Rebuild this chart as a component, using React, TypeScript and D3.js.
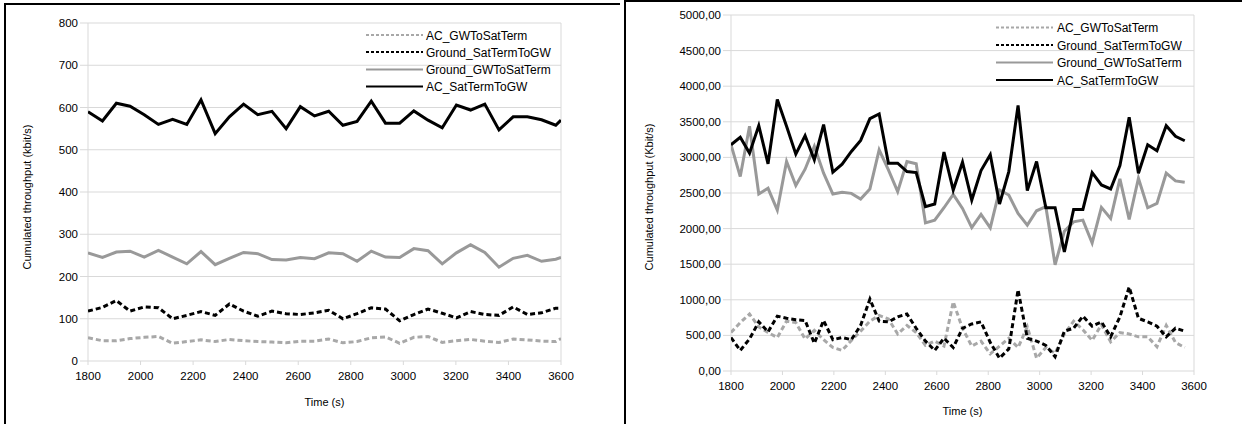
import React from "react";
import * as d3 from "d3";

// ---------- Left chart data ----------
const leftTimes = [1800, 1855, 1908, 1960, 2014, 2068, 2122, 2176, 2230, 2284, 2338, 2392, 2446, 2500, 2554, 2608, 2662, 2716, 2770, 2824, 2878, 2932, 2986, 3040, 3094, 3148, 3202, 3256, 3310, 3364, 3418, 3472, 3526, 3580, 3600];
const leftAC_GWToSatTerm = [55, 48, 48, 53, 56, 58, 42, 46, 50, 46, 51, 48, 46, 45, 43, 47, 47, 52, 43, 46, 55, 57, 42, 56, 58, 44, 48, 51, 47, 44, 52, 50, 47, 46, 53];
const leftGround_SatTermToGW = [118, 127, 143, 118, 128, 126, 100, 108, 117, 108, 135, 118, 106, 118, 112, 110, 114, 120, 100, 112, 126, 123, 95, 110, 123, 113, 102, 117, 110, 108, 128, 110, 114, 125, 125];
const leftGround_GWToSatTerm = [256, 245, 258, 260, 246, 262, 246, 230, 259, 228, 243, 257, 254, 240, 239, 245, 242, 256, 254, 236, 260, 246, 245, 266, 261, 230, 256, 275, 257, 222, 243, 250, 236, 241, 245];
const leftAC_SatTermToGW = [590, 568, 610, 603, 583, 560, 572, 560, 618, 538, 578, 608, 583, 591, 550, 602, 580, 591, 558, 567, 615, 563, 563, 592, 570, 552, 606, 594, 608, 547, 578, 578, 571, 558, 570];
const leftYTicks = [0, 100, 200, 300, 400, 500, 600, 700, 800];

// ---------- Right chart data ----------
const rightTimes = [1800, 1836, 1872, 1908, 1944, 1980, 2016, 2052, 2088, 2124, 2160, 2196, 2232, 2268, 2304, 2340, 2376, 2412, 2448, 2484, 2520, 2556, 2592, 2628, 2664, 2700, 2736, 2772, 2808, 2844, 2880, 2916, 2952, 2988, 3024, 3060, 3096, 3132, 3168, 3204, 3240, 3276, 3312, 3348, 3384, 3420, 3456, 3492, 3528, 3564];
const rightAC_GWToSatTerm = [540, 680, 800, 620, 540, 470, 700, 680, 450, 570, 440, 330, 290, 430, 560, 700, 780, 730, 520, 640, 540, 360, 420, 350, 970, 600, 350, 420, 240, 350, 460, 330, 620, 180, 330, 250, 520, 700, 580, 430, 650, 410, 540, 520, 480, 480, 340, 640, 400, 330];
const rightGround_SatTermToGW = [470, 290, 450, 690, 550, 770, 740, 720, 710, 390, 710, 440, 470, 440, 640, 1010, 700, 690, 760, 800, 600, 420, 290, 460, 330, 600, 660, 690, 400, 180, 310, 1140, 460, 420, 360, 200, 560, 600, 770, 630, 690, 480, 760, 1180, 740, 690, 630, 480, 600, 560];
const rightGround_GWToSatTerm = [3178, 2731, 3437, 2486, 2566, 2260, 2943, 2604, 2834, 3155, 2778, 2486, 2509, 2495, 2415, 2557, 3107, 2825, 2519, 2943, 2910, 2081, 2119, 2293, 2481, 2283, 2015, 2199, 2010, 2542, 2472, 2213, 2048, 2250, 2307, 1492, 1963, 2095, 2119, 1798, 2298, 2142, 2698, 2128, 2707, 2293, 2354, 2778, 2670, 2651];
const rightAC_SatTermToGW = [3178, 3282, 3060, 3446, 2910, 3814, 3437, 3046, 3305, 2966, 3460, 2792, 2905, 3084, 3239, 3545, 3611, 2919, 2919, 2801, 2787, 2307, 2345, 3074, 2542, 2933, 2401, 2815, 3037, 2345, 2801, 3729, 2533, 2943, 2293, 2293, 1671, 2269, 2269, 2787, 2613, 2557, 2886, 3564, 2778, 3178, 3093, 3446, 3296, 3234];
const rightYTicks = [0, 500, 1000, 1500, 2000, 2500, 3000, 3500, 4000, 4500, 5000];

const xTicks = [1800, 2000, 2200, 2400, 2600, 2800, 3000, 3200, 3400, 3600];
const seriesNames = ["AC_GWToSatTerm", "Ground_SatTermToGW", "Ground_GWToSatTerm", "AC_SatTermToGW"];

const FONT = "'Liberation Sans', Arial, Helvetica, sans-serif";
const GRID = "#d9d9d9";
const GRAY = "#999999";
const GRAYDASH = "#a8a8a8";

type Series = { name: string; values: number[]; color: string; dash?: string };

type ChartProps = {
  left: number; right: number; top: number; bottom: number;
  yMax: number; yTicks: number[]; fmt: (v: number) => string;
  times: number[]; series: Series[];
  yLabel: string; yLabelX: number; yLabelY: number;
  xLabelY: number; xTickLabelY: number;
  legendX1: number; legendX2: number; legendTextX: number; legendYs: number[];
  lineWidth: number;
};

function Chart(p: ChartProps) {
  const x = d3.scaleLinear().domain([1800, 3600]).range([p.left, p.right]);
  const y = d3.scaleLinear().domain([0, p.yMax]).range([p.bottom, p.top]);
  const line = d3.line<number>()
    .x((_, i) => x(p.times[i]))
    .y((d) => y(d));
  const clipId = "clip" + p.left;
  return (
    <g fontFamily={FONT}>
      <defs>
        <clipPath id={clipId}>
          <rect x={p.left} y={p.top - 5} width={p.right - p.left} height={p.bottom - p.top + 10} />
        </clipPath>
      </defs>
      {p.yTicks.map((t) => (
        <g key={"y" + t}>
          <line x1={p.left - 8} x2={p.right} y1={y(t)} y2={y(t)} stroke={GRID} strokeWidth={1} />
          <text x={p.left - 10} y={y(t) + 4} textAnchor="end" fontSize={11.5} fill="#000">{p.fmt(t)}</text>
        </g>
      ))}
      <line x1={p.left} x2={p.left} y1={p.top} y2={p.bottom} stroke={GRID} strokeWidth={1} />
      <line x1={p.right} x2={p.right} y1={p.top} y2={p.bottom} stroke={GRID} strokeWidth={1} />
      {xTicks.map((t) => (
        <g key={"x" + t}>
          <line x1={x(t)} x2={x(t)} y1={p.bottom} y2={p.bottom + 4} stroke={GRID} strokeWidth={1} />
          <text x={x(t)} y={p.xTickLabelY} textAnchor="middle" fontSize={11.5} fill="#000">{t}</text>
        </g>
      ))}
      <g clipPath={`url(#${clipId})`}>
        {p.series.map((s) => (
          <path key={s.name} d={line(s.values) || ""} fill="none" stroke={s.color}
            strokeWidth={p.lineWidth} strokeDasharray={s.dash} strokeLinejoin="miter" />
        ))}
      </g>
      {p.series.map((s, i) => (
        <g key={"lg" + s.name}>
          <line x1={p.legendX1} x2={p.legendX2} y1={p.legendYs[i]} y2={p.legendYs[i]} stroke={s.color}
            strokeWidth={2} strokeDasharray={s.dash ? "3,2" : undefined} />
          <text x={p.legendTextX} y={p.legendYs[i] + 4.5} fontSize={12} fill="#000">{s.name}</text>
        </g>
      ))}
      <text transform={`translate(${p.yLabelX},${p.yLabelY}) rotate(-90)`} textAnchor="middle" fontSize={11} fill="#000">{p.yLabel}</text>
      <text x={(p.left + p.right) / 2} y={p.xLabelY} textAnchor="middle" fontSize={11} fill="#000">Time (s)</text>
    </g>
  );
}

export default function App() {
  const leftSeries: Series[] = [
    { name: seriesNames[0], values: leftAC_GWToSatTerm, color: GRAYDASH, dash: "5,3" },
    { name: seriesNames[1], values: leftGround_SatTermToGW, color: "#000", dash: "5,3" },
    { name: seriesNames[2], values: leftGround_GWToSatTerm, color: GRAY },
    { name: seriesNames[3], values: leftAC_SatTermToGW, color: "#000" },
  ];
  const rightSeries: Series[] = [
    { name: seriesNames[0], values: rightAC_GWToSatTerm, color: GRAYDASH, dash: "5,3" },
    { name: seriesNames[1], values: rightGround_SatTermToGW, color: "#000", dash: "5,3" },
    { name: seriesNames[2], values: rightGround_GWToSatTerm, color: GRAY },
    { name: seriesNames[3], values: rightAC_SatTermToGW, color: "#000" },
  ];
  const fmtComma = (v: number) => v.toFixed(2).replace(".", ",");
  return (
    <svg width={1242} height={424} style={{ position: "absolute", left: 0, top: 0, background: "#fff" }}>
      <rect x={0} y={0} width={1242} height={424} fill="#fff" />
      <Chart left={88} right={561} top={23} bottom={361} yMax={800} yTicks={leftYTicks}
        fmt={(v) => String(v)} times={leftTimes} series={leftSeries}
        yLabel="Cumulated throughput (kbit/s)" yLabelX={31} yLabelY={197}
        xLabelY={406} xTickLabelY={380}
        legendX1={366} legendX2={423} legendTextX={426} legendYs={[35, 52, 69.5, 86.5]} lineWidth={3} />
      <Chart left={731} right={1194} top={15} bottom={371} yMax={5000} yTicks={rightYTicks}
        fmt={fmtComma} times={rightTimes} series={rightSeries}
        yLabel="Cumulated throughput (Kbit/s)" yLabelX={653} yLabelY={197}
        xLabelY={415} xTickLabelY={390}
        legendX1={996} legendX2={1053} legendTextX={1057} legendYs={[27.5, 45, 62.5, 80]} lineWidth={3} />
      {/* frames */}
      <path d="M5,424 V4 H620" fill="none" stroke="#000" strokeWidth={2} />
      <path d="M625,424 V1 H1242" fill="none" stroke="#000" strokeWidth={2} />
    </svg>
  );
}
